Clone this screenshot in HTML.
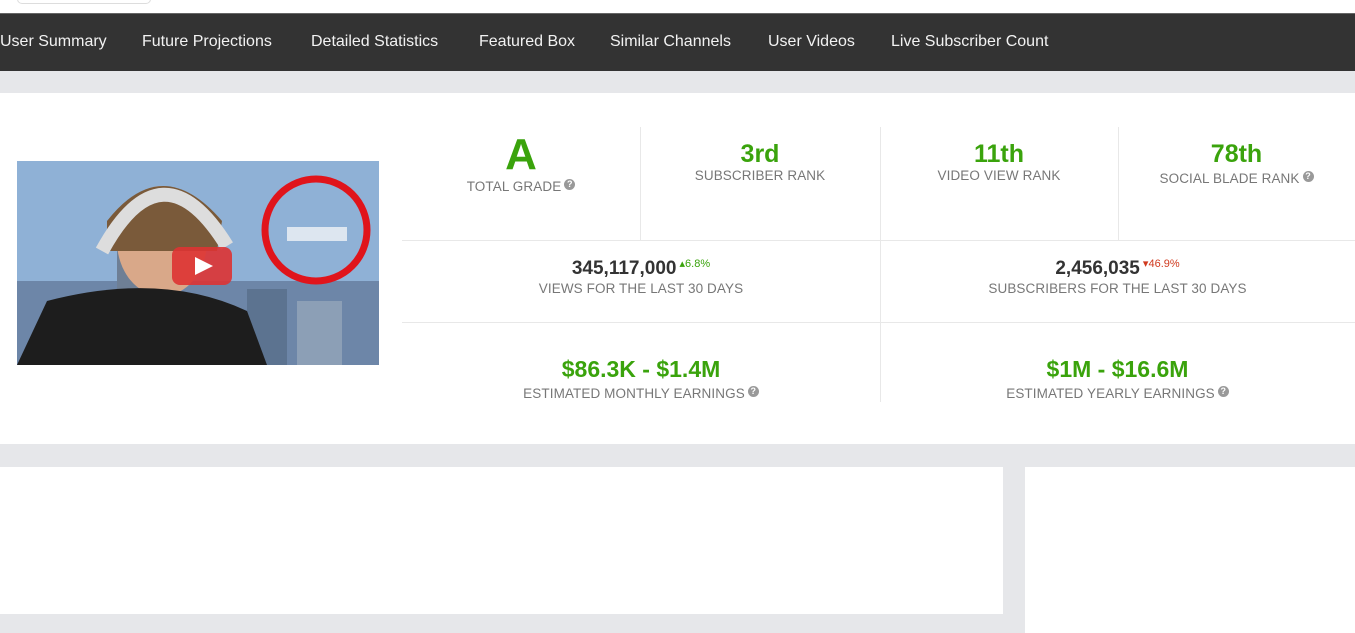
<!DOCTYPE html>
<html><head><style>
body{margin:0;width:1355px;height:633px;overflow:hidden;background:#e6e7ea;font-family:"Liberation Sans",Arial,sans-serif;position:relative}
.a{position:absolute}
.nav{left:0;top:13px;width:1355px;height:57px;background:#333;border-top:1px solid #666}
.nav span{position:absolute;top:19px;color:#f2f2f2;font-size:16px;white-space:nowrap}
.c{position:absolute;text-align:center;white-space:nowrap}
.g{color:#3aa30c;font-weight:bold}
.l{color:#777;font-size:13.5px;letter-spacing:0.1px}
.n{color:#333;font-weight:bold;font-size:19px}
.q{display:inline-block;width:11px;height:11px;border-radius:50%;background:#999;color:#fff;font-size:9px;line-height:11px;text-align:center;vertical-align:4px;font-weight:bold;margin-left:3px}
.vl{position:absolute;width:1px;background:#e8e8e8}
.hl{position:absolute;height:1px;background:#e8e8e8}
</style></head><body>
<div class="a" style="left:0;top:0;width:1355px;height:13px;background:#fff"></div>
<div class="a" style="left:17px;top:-6px;width:132px;height:8px;border:1px solid #ddd;border-radius:5px;background:#fff"></div>
<div class="a nav">
<span style="left:0">User Summary</span><span style="left:142px">Future Projections</span><span style="left:311px">Detailed Statistics</span><span style="left:479px">Featured Box</span><span style="left:610px">Similar Channels</span><span style="left:768px">User Videos</span><span style="left:891px">Live Subscriber Count</span>
</div>
<div class="a" style="left:0;top:93px;width:1355px;height:351px;background:#fff"></div>
<svg class="a" style="left:17px;top:161px" width="362" height="204">
<rect width="362" height="204" fill="#8fb1d6"/>
<rect y="120" width="362" height="84" fill="#6d86a8"/>
<rect x="230" y="128" width="40" height="76" fill="#5c7390"/><rect x="280" y="140" width="45" height="64" fill="#8c9fb6"/>
<rect x="100" y="50" width="40" height="154" fill="#6e7f95"/>
<ellipse cx="145" cy="80" rx="45" ry="55" fill="#d9a889"/>
<path d="M90 60 Q145 -10 205 60 L200 90 L90 90Z" fill="#7a5a3a"/>
<path d="M85 90 Q145 -20 210 85" stroke="#ddd" stroke-width="14" fill="none"/>
<path d="M0 204 L30 140 Q145 110 230 150 L250 204Z" fill="#1d1d1d"/>
<circle cx="299" cy="69" r="51" fill="none" stroke="#e0141b" stroke-width="7"/>
<rect x="270" y="66" width="60" height="14" fill="#dde6f0"/>
<rect x="155" y="86" width="60" height="38" rx="8" fill="#d33" opacity="0.9"/>
<path d="M178 96 L196 105 L178 114Z" fill="#fff"/>
</svg>
<div class="vl" style="left:640px;top:127px;height:113px"></div>
<div class="vl" style="left:880px;top:127px;height:275px"></div>
<div class="vl" style="left:1118px;top:127px;height:113px"></div>
<div class="hl" style="left:402px;top:240px;width:953px"></div>
<div class="hl" style="left:402px;top:322px;width:953px"></div>
<div class="c" style="left:402px;width:238px;top:132px"><div class="g" style="font-size:44px;line-height:46px">A</div><div class="l" style="margin-top:1px">TOTAL GRADE<span class="q">?</span></div></div>
<div class="c" style="left:640px;width:240px;top:140px"><div class="g" style="font-size:25px;line-height:28px">3rd</div><div class="l">SUBSCRIBER RANK</div></div>
<div class="c" style="left:880px;width:238px;top:140px"><div class="g" style="font-size:25px;line-height:28px">11th</div><div class="l">VIDEO VIEW RANK</div></div>
<div class="c" style="left:1118px;width:237px;top:140px"><div class="g" style="font-size:25px;line-height:28px">78th</div><div class="l" style="margin-top:3px">SOCIAL BLADE RANK<span class="q">?</span></div></div>
<div class="c" style="left:402px;width:478px;top:257px"><div class="n">345,117,000<span style="color:#3aa30c;font-size:11px;vertical-align:7px;font-weight:normal"> ▴6.8%</span></div><div class="l" style="margin-top:1px">VIEWS FOR THE LAST 30 DAYS</div></div>
<div class="c" style="left:880px;width:475px;top:257px"><div class="n">2,456,035<span style="color:#d03a1f;font-size:11px;vertical-align:7px;font-weight:normal"> ▾46.9%</span></div><div class="l" style="margin-top:1px">SUBSCRIBERS FOR THE LAST 30 DAYS</div></div>
<div class="c" style="left:402px;width:478px;top:356px"><div class="g" style="font-size:23px">$86.3K - $1.4M</div><div class="l" style="margin-top:3px">ESTIMATED MONTHLY EARNINGS<span class="q">?</span></div></div>
<div class="c" style="left:880px;width:475px;top:356px"><div class="g" style="font-size:23px">$1M - $16.6M</div><div class="l" style="margin-top:3px">ESTIMATED YEARLY EARNINGS<span class="q">?</span></div></div>
<div class="a" style="left:0;top:467px;width:1003px;height:147px;background:#fff"></div>
<div class="a" style="left:1025px;top:467px;width:330px;height:166px;background:#fff"></div>
</body></html>
